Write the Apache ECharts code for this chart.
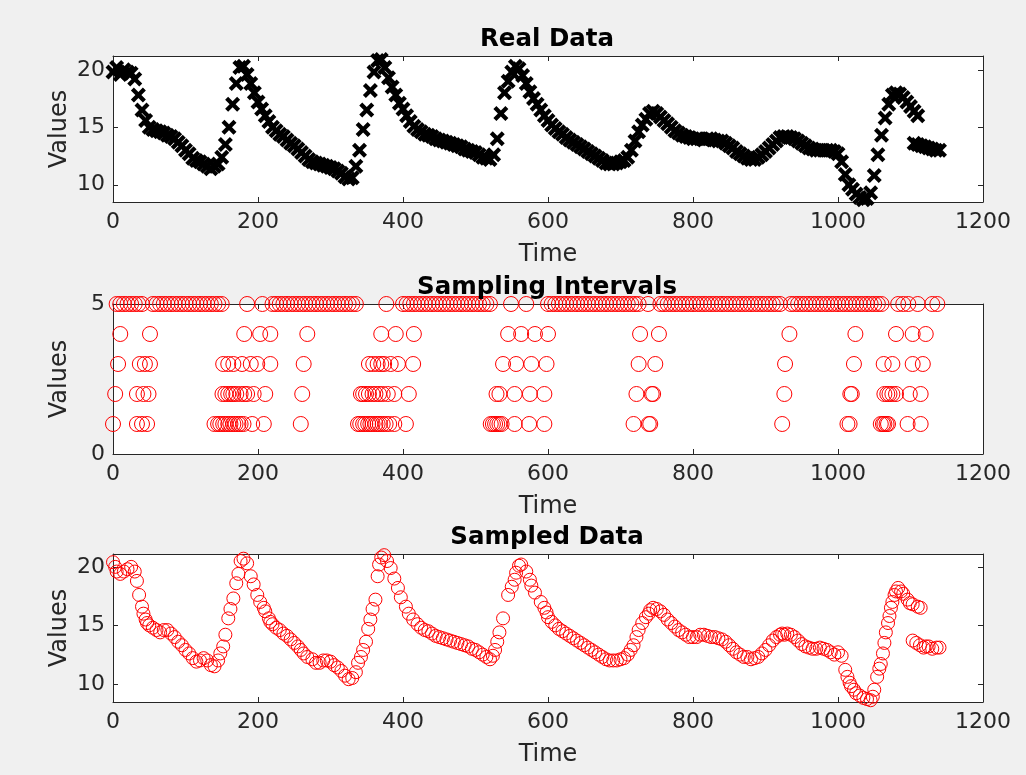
<!DOCTYPE html>
<html>
<head>
<meta charset="utf-8">
<script src="https://cdn.jsdelivr.net/npm/echarts@6/dist/echarts.min.js"></script>
<style>
  html, body { margin: 0; padding: 0; background: #f0f0f0; }
  #main { width: 1026px; height: 775px; }
</style>
</head>
<body>
<div id="main"></div>
<script>
// x ticks shared by the three panels
var timeTicks = [0, 200, 400, 600, 800, 1000, 1200];
var valueTicks = [10, 15, 20];
var intervalTicks = [0, 5];

// Real Data, [time, value]
var realData = [
  [0,19.8],[5,20.2],[10,19.6],[15,20.0],[20,19.8],[25,19.7],[30,19.2],[35,17.8],[40,16.5],[45,15.6],
  [50,15.0],[55,14.8],[60,14.7],[65,14.6],[70,14.5],[75,14.3],[80,14.2],[85,14.0],[90,13.7],[95,13.4],
  [100,13.0],[105,12.7],[110,12.3],[115,12.1],[120,12.0],[125,11.8],[130,11.6],[135,11.4],[140,11.6],[145,11.8],
  [150,12.4],[155,13.5],[160,15.0],[165,17.0],[170,18.8],[175,20.2],[180,20.3],[185,19.6],[190,18.8],[195,18.0],
  [200,17.2],[205,16.6],[210,16.0],[215,15.5],[220,15.0],[225,14.7],[230,14.4],[235,14.2],[240,13.9],[245,13.6],
  [250,13.4],[255,13.1],[260,12.8],[265,12.5],[270,12.2],[275,12.0],[280,11.9],[285,11.8],[290,11.7],[295,11.6],
  [300,11.5],[305,11.4],[310,11.2],[315,11.0],[320,10.7],[325,10.5],[330,10.6],[335,11.6],[340,13.0],[345,14.8],
  [350,16.5],[355,18.2],[360,19.8],[365,20.8],[370,20.9],[375,20.2],[380,19.3],[385,18.5],[390,17.8],[395,17.1],
  [400,16.6],[405,16.0],[410,15.5],[415,15.1],[420,14.8],[425,14.6],[430,14.4],[435,14.3],[440,14.2],[445,14.0],
  [450,13.9],[455,13.8],[460,13.7],[465,13.6],[470,13.5],[475,13.4],[480,13.3],[485,13.1],[490,13.0],[495,12.9],
  [500,12.8],[505,12.6],[510,12.4],[515,12.3],[520,12.2],[525,12.6],[530,14.0],[535,16.2],[540,18.0],[545,19.0],
  [550,19.8],[555,20.3],[560,20.1],[565,19.5],[570,18.8],[575,18.1],[580,17.5],[585,17.0],[590,16.5],[595,16.0],
  [600,15.6],[605,15.2],[610,14.9],[615,14.6],[620,14.4],[625,14.1],[630,13.9],[635,13.7],[640,13.5],[645,13.3],
  [650,13.1],[655,12.9],[660,12.7],[665,12.5],[670,12.3],[675,12.1],[680,11.9],[685,11.8],[690,11.8],[695,11.9],
  [700,12.0],[705,12.1],[710,12.4],[715,13.0],[720,13.8],[725,14.6],[730,15.2],[735,15.7],[740,16.2],[745,16.4],
  [750,16.2],[755,15.9],[760,15.6],[765,15.3],[770,15.0],[775,14.7],[780,14.5],[785,14.3],[790,14.2],[795,14.1],
  [800,14.0],[805,14.0],[810,14.0],[815,13.9],[820,14.0],[825,14.0],[830,13.9],[835,13.8],[840,13.8],[845,13.6],
  [850,13.4],[855,13.2],[860,12.9],[865,12.7],[870,12.5],[875,12.3],[880,12.2],[885,12.2],[890,12.4],[895,12.6],
  [900,12.9],[905,13.2],[910,13.5],[915,13.8],[920,14.1],[925,14.2],[930,14.2],[935,14.1],[940,14.0],[945,13.8],
  [950,13.6],[955,13.4],[960,13.2],[965,13.1],[970,13.0],[975,13.0],[980,13.0],[985,13.0],[990,13.0],[995,12.9],
  [1000,12.7],[1005,12.0],[1010,10.9],[1015,10.0],[1020,9.6],[1025,9.2],[1030,8.9],[1035,8.7],[1040,8.8],[1045,9.3],
  [1050,10.8],[1055,12.6],[1060,14.3],[1065,15.8],[1070,17.0],[1075,17.8],[1080,18.0],[1085,17.9],[1090,17.6],[1095,17.2],
  [1100,16.8],[1105,16.4],[1110,16.0],
  [1105,13.6],[1110,13.5],[1115,13.4],[1120,13.3],[1125,13.2],[1130,13.1],[1135,13.0],[1140,13.0]
];

// Sampling Intervals: times at which each interval value occurs
var level1Times = [0,33,40,47,140,145,148,152,155,159,162,166,169,173,176,180,192,208,259,338,341,345,348,352,355,358,362,365,368,372,376,381,388,404,
  521,524,527,530,533,536,554,574,595,718,739,741,923,1013,1016,1059,1062,1064,1067,1069,1096,1114];
var level2Times = [3,33,42,49,151,155,159,163,166,170,176,181,185,194,210,261,342,345,349,353,358,362,367,372,379,388,408,
  529,533,554,575,595,722,743,745,926,1017,1019,1064,1068,1071,1075,1080,1099,1114];
var level3Times = [7,37,44,51,152,159,166,178,190,199,217,263,353,359,365,370,374,383,393,414,538,556,577,598,725,748,927,1022,1063,1075,1103,1117];
var level4Times = [10,51,181,203,217,268,370,390,415,545,563,582,600,727,753,933,1024,1080,1103,1121];
var level5Times = [5,10,15,20,25,30,35,40,
  55,60,65,70,75,80,85,90,95,100,105,110,115,120,125,130,135,140,145,150,
  185,206,
  220,225,230,235,240,245,250,255,260,265,270,275,280,285,290,295,300,305,310,315,320,325,330,335,
  377,
  400,405,410,415,420,425,430,435,440,445,450,455,460,465,470,475,480,485,490,495,500,505,510,515,520,
  549,570,
  600,605,610,615,620,625,630,635,640,645,650,655,660,665,670,675,680,685,690,695,700,705,710,715,720,725,
  738,
  755,760,765,770,775,780,785,790,795,800,805,810,815,820,825,830,835,840,845,850,855,860,865,870,875,880,885,890,895,900,905,910,915,920,
  935,940,945,950,955,960,965,970,975,980,985,990,995,1000,1005,1010,1015,1020,1025,1030,1035,1040,1045,1050,1055,1060,
  1083,1090,1097,1110,1130,1137];

// Sampled Data, [time, value]
var sampledData = [
  [0,20.4],[3,20.0],[5,19.6],[10,19.4],[15,19.6],[20,19.8],[25,20.0],[30,19.6],[33,18.8],[36,17.6],[40,16.6],[42,16.0],
  [45,15.5],[47,15.2],[50,15.0],[55,14.8],[60,14.6],[65,14.4],[70,14.6],[75,14.6],[80,14.3],[85,14.0],[90,13.6],[95,13.3],
  [100,12.9],[105,12.6],[110,12.2],[115,11.9],[120,12.0],[125,12.2],[130,12.0],[135,11.6],[140,11.5],[145,12.0],[148,12.6],
  [152,13.2],[155,14.2],[159,15.6],[162,16.4],[166,17.3],[170,18.6],[173,19.4],[176,20.5],[180,20.7],[185,20.3],[190,19.2],
  [194,18.5],[199,17.6],[203,17.0],[208,16.5],[210,16.2],[215,15.6],[217,15.3],[220,15.1],[225,14.8],[230,14.6],[235,14.3],
  [240,14.1],[245,13.8],[250,13.5],[255,13.2],[259,12.9],[263,12.6],[268,12.3],[275,12.1],[280,11.8],[285,11.8],[290,12.0],
  [295,12.0],[300,11.9],[305,11.6],[310,11.4],[315,11.1],[320,10.7],[325,10.4],[330,10.5],[335,11.0],[338,11.8],[342,12.3],
  [345,12.9],[349,13.6],[352,14.7],[355,15.5],[358,16.4],[362,17.2],[365,19.2],[367,20.2],[370,20.8],[374,21.0],[378,20.5],
  [383,19.9],[388,19.0],[393,18.2],[397,17.4],[404,16.6],[408,16.0],[414,15.5],[420,15.1],[425,14.8],[430,14.6],[435,14.5],
  [440,14.3],[445,14.1],[450,14.0],[455,13.9],[460,13.8],[465,13.7],[470,13.6],[475,13.5],[480,13.4],[485,13.3],[490,13.2],
  [495,13.0],[500,12.9],[505,12.7],[510,12.5],[515,12.3],[520,12.1],[524,12.4],[527,12.9],[530,13.6],[533,14.4],[538,15.6],
  [545,17.6],[550,18.3],[554,18.9],[556,19.5],[560,20.1],[563,20.2],[570,19.6],[575,18.9],[577,18.4],[582,17.8],[590,17.0],
  [595,16.5],[598,16.1],[600,15.7],[605,15.3],[610,15.0],[615,14.7],[620,14.5],[625,14.3],[630,14.1],[635,13.9],[640,13.7],
  [645,13.5],[650,13.3],[655,13.1],[660,12.9],[665,12.7],[670,12.5],[675,12.3],[680,12.1],[685,12.0],[690,12.0],[695,12.0],
  [700,12.1],[705,12.2],[710,12.5],[714,12.9],[718,13.3],[722,14.0],[725,14.6],[730,15.2],[735,15.7],[739,16.0],[741,16.3],
  [745,16.5],[750,16.4],[755,16.2],[760,15.9],[765,15.5],[770,15.2],[775,14.9],[780,14.6],[785,14.4],[790,14.2],[795,14.0],
  [800,14.0],[805,14.0],[810,14.2],[815,14.2],[820,14.1],[825,14.0],[830,14.0],[835,13.9],[840,13.8],[845,13.6],[850,13.3],
  [855,13.0],[860,12.7],[865,12.5],[870,12.3],[875,12.3],[880,12.1],[885,12.2],[890,12.3],[895,12.6],[900,12.9],[905,13.3],
  [910,13.7],[915,14.0],[920,14.2],[923,14.3],[926,14.2],[930,14.3],[935,14.2],[940,14.0],[945,13.7],[950,13.4],[955,13.2],
  [960,13.1],[965,13.0],[970,13.0],[975,13.1],[980,13.0],[985,12.9],[990,12.7],[995,12.5],[1000,12.7],[1005,12.4],[1010,11.2],
  [1013,10.6],[1016,10.1],[1018,9.8],[1022,9.5],[1025,9.2],[1030,9.0],[1035,8.8],[1040,8.7],[1045,8.6],[1048,8.9],[1050,9.5],
  [1054,10.6],[1057,11.3],[1059,11.7],[1062,12.6],[1064,13.5],[1066,14.4],[1069,15.2],[1071,15.8],[1073,16.5],[1075,17.0],
  [1078,17.6],[1080,17.9],[1083,18.2],[1087,17.9],[1090,17.7],[1096,17.2],[1099,16.9],[1103,16.8],[1110,16.6],[1114,16.5],
  [1103,13.7],[1108,13.5],[1113,13.3],[1118,13.1],[1121,13.2],[1125,13.2],[1130,13.0],[1136,13.1],[1140,13.1]
];

var axisColor = '#262626';
// filled "x" marker with thick arms so neighbouring marks merge into a band
var crossPath = 'path://M0,2L2,0L5,3L8,0L10,2L7,5L10,8L8,10L5,7L2,10L0,8L3,5Z';

function levelPoints(times, level) {
  return times.map(function (t) { return [t, level]; });
}

var grids = [
  { left: 113, top: 56, width: 870, height: 146 },
  { left: 113, top: 304, width: 870, height: 150 },
  { left: 113, top: 554, width: 870, height: 148 }
];

function plain(v) { return String(v); }

function bottomAxis(i) {
  return {
    type: 'value', gridIndex: i, position: 'bottom',
    min: 0, max: 1200, interval: 200,
    name: 'Time', nameLocation: 'middle', nameGap: 41,
    nameTextStyle: { fontSize: 24, color: axisColor, fontFamily: 'DejaVu Sans' },
    axisLine: { onZero: false, lineStyle: { color: axisColor, width: 1 } },
    axisTick: { inside: true, length: 5, lineStyle: { color: axisColor } },
    axisLabel: { fontSize: 22, color: axisColor, margin: 9, fontFamily: 'DejaVu Sans', formatter: plain },
    splitLine: { show: false }
  };
}
function topAxis(i) {
  return {
    type: 'value', gridIndex: i, position: 'top',
    min: 0, max: 1200, interval: 200,
    axisLine: { onZero: false, lineStyle: { color: axisColor, width: 1 } },
    axisTick: { inside: true, length: 5, lineStyle: { color: axisColor } },
    axisLabel: { show: false },
    splitLine: { show: false }
  };
}
function leftAxis(i, min, max, ticks) {
  return {
    type: 'value', gridIndex: i, position: 'left',
    min: min, max: max,
    name: 'Values', nameLocation: 'middle', nameGap: 41, nameMoveOverlap: false,
    nameTextStyle: { fontSize: 24, color: axisColor, fontFamily: 'DejaVu Sans' },
    axisLine: { show: true, onZero: false, lineStyle: { color: axisColor, width: 1 } },
    axisTick: { show: true, inside: true, length: 5, lineStyle: { color: axisColor }, customValues: ticks },
    axisLabel: { fontSize: 22, color: axisColor, margin: 8, fontFamily: 'DejaVu Sans', customValues: ticks, formatter: plain },
    splitLine: { show: false }
  };
}
function rightAxis(i, min, max, ticks) {
  return {
    type: 'value', gridIndex: i, position: 'right',
    min: min, max: max,
    axisLine: { show: true, onZero: false, lineStyle: { color: axisColor, width: 1 } },
    axisTick: { show: true, inside: true, length: 5, lineStyle: { color: axisColor }, customValues: ticks },
    axisLabel: { show: false },
    splitLine: { show: false }
  };
}

function circleSeries(data, size) {
  return {
    type: 'scatter', data: data, symbol: 'circle', symbolSize: size, clip: false,
    itemStyle: { color: 'rgba(0,0,0,0)', borderColor: '#ff0000', borderWidth: 1, opacity: 1 }
  };
}

var s1 = { type: 'scatter', xAxisIndex: 0, yAxisIndex: 0, data: realData, symbol: crossPath, symbolSize: 15, clip: false,
  itemStyle: { color: '#000000', opacity: 1 } };

var levelSeries = [
  levelPoints(level1Times, 1), levelPoints(level2Times, 2), levelPoints(level3Times, 3),
  levelPoints(level4Times, 4), levelPoints(level5Times, 5)
].map(function (d) {
  var s = circleSeries(d, 15);
  s.xAxisIndex = 1; s.yAxisIndex = 1;
  return s;
});

var s3 = circleSeries(sampledData, 13);
s3.xAxisIndex = 2; s3.yAxisIndex = 2;

var titleStyle = { fontSize: 24.5, fontWeight: 'bold', color: '#000000', fontFamily: 'DejaVu Sans' };

var myChart = echarts.init(document.getElementById('main'), null, { renderer: 'canvas' });
myChart.setOption({
  backgroundColor: '#f0f0f0',
  animation: false,
  title: [
    { text: 'Real Data', left: 542, top: 22, textAlign: 'center', textStyle: titleStyle },
    { text: 'Sampling Intervals', left: 542, top: 270, textAlign: 'center', textStyle: titleStyle },
    { text: 'Sampled Data', left: 542, top: 520, textAlign: 'center', textStyle: titleStyle }
  ],
  grid: grids.map(function (g) {
    return { left: g.left, top: g.top, width: g.width, height: g.height, show: true,
      backgroundColor: '#ffffff', borderWidth: 0 };
  }),
  xAxis: [bottomAxis(0), bottomAxis(1), bottomAxis(2), topAxis(0), topAxis(1), topAxis(2)],
  yAxis: [
    leftAxis(0, 8.5, 21.2, valueTicks), leftAxis(1, 0, 5, intervalTicks), leftAxis(2, 8.45, 21.1, valueTicks),
    rightAxis(0, 8.5, 21.2, valueTicks), rightAxis(1, 0, 5, intervalTicks), rightAxis(2, 8.45, 21.1, valueTicks)
  ],
  series: [s1].concat(levelSeries).concat([s3])
});
</script>
</body>
</html>
